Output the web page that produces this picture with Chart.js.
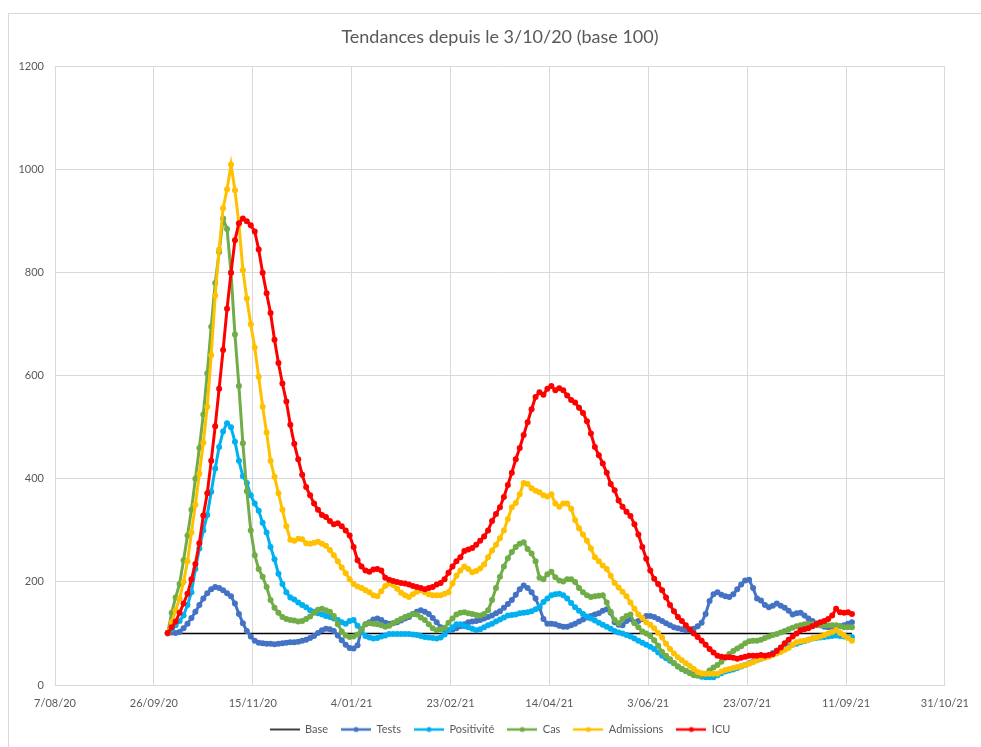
<!DOCTYPE html>
<html>
<head>
<meta charset="utf-8">
<title>Tendances depuis le 3/10/20 (base 100)</title>
<script src="https://cdn.jsdelivr.net/npm/chart.js@4.4.0/dist/chart.umd.min.js"></script>
<style>
  html, body { margin: 0; padding: 0; background: #fff; }
  canvas { display: block; }
</style>
</head>
<body>
<canvas id="trendChart" width="981" height="747"></canvas>
<script>
// x axis counts days from 7/08/20 (first tick); ticks every 50 days up to 31/10/21
const axisStart = Date.UTC(2020, 7, 7);
const xStep = 50;
const xMax = 450;
const yMax = 1200;
const yStep = 200;

// one reading every 2 days from 3/10/20 (day 57)
const firstDay = 57;
const stepDays = 2;
const baseLevel = 100;

const seriesNames = ['Base', 'Tests', 'Positivité', 'Cas', 'Admissions', 'ICU'];
const seriesColors = ['#000000', '#4472C4', '#00B0F0', '#70AD47', '#FFC000', '#FF0000'];

const tests = [
  100, 102, 101, 103, 110, 119, 130, 142, 155, 168,
  178, 186, 190, 188, 184, 178, 172, 158, 138, 120,
  105, 94, 86, 82, 81, 80, 80, 79, 80, 81,
  82, 83, 83, 84, 86, 88, 91, 95, 101, 106,
  109, 108, 105, 96, 87, 78, 72, 71, 77, 108,
  118, 122, 127, 129, 126, 121, 119, 120, 122, 125,
  129, 132, 138, 142, 145, 142, 138, 130, 122, 112,
  108, 106, 107, 110, 114, 118, 122, 123, 124, 126,
  129, 132, 135, 139, 143, 150, 157, 165, 175, 186,
  193, 188, 180, 168, 150, 128, 119, 119, 118, 115,
  113, 113, 116, 119, 123, 127, 131, 134, 137, 139,
  144, 147, 140, 122, 117, 116, 124, 128, 122, 124,
  128, 134, 134, 132, 128, 124, 120, 116, 112, 110,
  108, 106, 106, 109, 114, 121, 138, 163, 176, 180,
  175, 172, 171, 176, 186, 195, 203, 204, 188, 168,
  164, 155, 151, 154, 158, 154, 150, 144, 137, 139,
  140, 135, 129, 124, 120, 116, 113, 112, 112, 113,
  114, 116, 119, 122
];

const positivite = [
  101, 108, 116, 124, 135, 155, 180, 225, 265, 300,
  330, 375, 420, 462, 492, 508, 500, 472, 435, 405,
  392, 368, 352, 338, 315, 296, 268, 244, 216, 196,
  180, 170, 166, 160, 155, 151, 145, 142, 139, 137,
  134, 132, 129, 126, 122, 119, 124, 126, 115, 104,
  95, 92, 90, 91, 94, 96, 99, 99, 99, 99,
  99, 99, 98, 97, 95, 93, 92, 91, 90, 92,
  98, 106, 112, 118, 118, 114, 112, 109, 106, 108,
  112, 116, 119, 123, 127, 131, 135, 136, 137, 139,
  140, 141, 143, 147, 152, 161, 168, 174, 176, 177,
  174, 168, 159, 151, 144, 138, 133, 129, 125, 121,
  117, 113, 109, 105, 102, 100, 97, 94, 90, 86,
  82, 78, 74, 70, 63, 57, 52, 47, 42, 36,
  31, 27, 24, 22, 19, 16, 15, 15, 15, 19,
  23, 26, 28, 30, 33, 36, 39, 42, 45, 48,
  51, 54, 57, 62, 67, 70, 72, 75, 78, 80,
  83, 85, 88, 90, 91, 92, 93, 94, 95, 96,
  95, 94, 93, 93
];

const cas = [
  101, 140, 170, 196, 242, 290, 340, 400, 460, 525,
  605, 695, 780, 840, 905, 885, 800, 680, 580, 469,
  376, 300, 252, 225, 210, 190, 165, 150, 140, 132,
  128, 126, 125, 123, 124, 128, 133, 140, 146, 148,
  145, 142, 134, 118, 104, 96, 93, 94, 98, 108,
  118, 120, 119, 118, 116, 113, 115, 120, 124, 128,
  132, 135, 138, 137, 131, 126, 118, 110, 106, 108,
  111, 121, 129, 137, 140, 141, 139, 138, 136, 135,
  138, 145, 165, 188, 210, 230, 246, 258, 268, 274,
  277, 264, 255, 240, 208, 205, 215, 220, 209, 203,
  201, 205, 205, 200, 188, 180, 174, 171, 172, 173,
  174, 160, 142, 126, 120, 128, 134, 137, 120, 112,
  104, 100, 95, 87, 76, 64, 57, 50, 42, 36,
  31, 27, 23, 19, 18, 19, 22, 28, 34, 39,
  45, 53, 60, 66, 71, 75, 81, 85, 86, 86,
  88, 91, 94, 97, 99, 102, 105, 108, 111, 114,
  116, 118, 119, 118, 116, 116, 116, 116, 116, 116,
  114, 112, 112, 112
];

const admissions = [
  101, 122, 145, 168, 200, 240, 296, 350, 410, 470,
  540, 640, 756, 845, 925, 962, 1010, 960, 895, 805,
  750, 700, 655, 598, 540, 490, 435, 404, 372, 340,
  308, 282, 280, 284, 283, 275, 274, 276, 278, 274,
  270, 262, 252, 240, 228, 217, 205, 196, 191, 188,
  184, 180, 174, 172, 182, 192, 197, 194, 187, 179,
  174, 171, 176, 181, 184, 180, 176, 174, 174, 174,
  177, 180, 197, 212, 222, 230, 225, 219, 221, 226,
  234, 248, 261, 272, 285, 300, 322, 345, 353, 370,
  392, 390, 382, 377, 374, 368, 366, 370, 352, 346,
  352, 352, 342, 320, 304, 292, 280, 265, 248, 240,
  232, 225, 212, 198, 189, 181, 172, 160, 148, 137,
  130, 122, 117, 110, 101, 92, 80, 70, 61, 54,
  48, 42, 37, 31, 25, 23, 22, 22, 22, 22,
  26, 29, 31, 33, 35, 37, 39, 41, 44, 48,
  51, 53, 55, 58, 61, 64, 68, 72, 78, 83,
  85, 86, 88, 90, 92, 94, 97, 100, 103, 106,
  101, 96, 91, 86
];

const icu = [
  101, 112, 123, 140, 158, 177, 205, 235, 275, 329,
  372, 435, 502, 575, 650, 730, 800, 863, 896, 905,
  900, 892, 880, 845, 800, 760, 722, 670, 625, 585,
  550, 505, 468, 438, 408, 384, 368, 352, 340, 330,
  326, 318, 312, 314, 308, 300, 290, 268, 242, 230,
  222, 220, 224, 225, 222, 208, 204, 202, 200, 198,
  197, 195, 192, 190, 188, 186, 188, 190, 195, 198,
  205, 218, 230, 240, 248, 260, 263, 266, 272, 280,
  288, 300, 318, 332, 345, 365, 388, 412, 438, 460,
  485, 510, 535, 559, 568, 563, 575, 580, 572, 576,
  572, 562, 553, 548, 538, 528, 512, 488, 462, 446,
  430, 412, 390, 378, 358, 346, 336, 328, 312, 292,
  268, 245, 222, 206, 196, 184, 170, 155, 143, 132,
  124, 116, 108, 100, 93, 86, 78, 70, 63, 57,
  55, 54, 54, 53, 51, 53, 55, 57, 57, 57,
  58, 57, 58, 60, 66, 73, 81, 88, 94, 100,
  106, 108, 110, 114, 118, 122, 124, 128, 135, 148,
  141, 140, 141, 138
];

const lastDay = firstDay + (icu.length - 1) * stepDays;

function toPoints(values) {
  return values.map((v, i) => ({ x: firstDay + i * stepDays, y: v }));
}

function formatDay(value) {
  const d = new Date(axisStart + value * 86400000);
  return d.getUTCDate() + '/' + String(d.getUTCMonth() + 1).padStart(2, '0') + '/' + String(d.getUTCFullYear()).slice(2);
}

// small line + dot picture used in the legend, like the spreadsheet legend
function legendIcon(color, withDot) {
  const c = document.createElement('canvas');
  c.width = 30;
  c.height = 8;
  const g = c.getContext('2d');
  g.strokeStyle = color;
  g.lineWidth = withDot ? 2.5 : 1.5;
  g.beginPath();
  g.moveTo(0, 4);
  g.lineTo(30, 4);
  g.stroke();
  if (withDot) {
    g.fillStyle = color;
    g.beginPath();
    g.arc(15, 4, 2.5, 0, Math.PI * 2);
    g.fill();
  }
  return c;
}

const icons = seriesColors.map((c, i) => legendIcon(c, i > 0));

function series(i, values) {
  return {
    label: seriesNames[i],
    data: toPoints(values),
    borderColor: seriesColors[i],
    backgroundColor: seriesColors[i],
    pointBackgroundColor: seriesColors[i],
    borderWidth: 3,
    pointRadius: 3,
    pointBorderWidth: 0,
    pointHoverRadius: 3,
    tension: 0,
    order: seriesNames.length - i
  };
}

// light frame round the whole chart
const framePlugin = {
  id: 'frame',
  beforeDraw(chart) {
    const ctx = chart.ctx;
    ctx.save();
    ctx.strokeStyle = '#D9D9D9';
    ctx.lineWidth = 1;
    ctx.strokeRect(8.5, 13.5, 1200, 1000);
    ctx.restore();
  }
};

const legendHeightPlugin = {
  id: 'legendHeight',
  beforeInit(chart) {
    const fit = chart.legend.fit;
    chart.legend.fit = function () {
      fit.call(this);
      this.height = 36;
    };
  }
};

Chart.defaults.font.family = 'Lato, "Liberation Sans", sans-serif';
Chart.defaults.color = '#595959';

const ctx = document.getElementById('trendChart').getContext('2d');

new Chart(ctx, {
  type: 'line',
  data: {
    datasets: [
      {
        label: seriesNames[0],
        data: [{ x: firstDay, y: baseLevel }, { x: lastDay, y: baseLevel }],
        borderColor: seriesColors[0],
        backgroundColor: seriesColors[0],
        borderWidth: 1.5,
        pointRadius: 0,
        order: seriesNames.length
      },
      series(1, tests),
      series(2, positivite),
      series(3, cas),
      series(4, admissions),
      series(5, icu)
    ]
  },
  options: {
    responsive: false,
    animation: false,
    layout: {
      padding: { top: 13, left: 10, right: 33, bottom: 0 }
    },
    scales: {
      x: {
        type: 'linear',
        min: 0,
        max: xMax,
        afterFit(scale) { scale.height = 26; },
        ticks: {
          stepSize: xStep,
          autoSkip: false,
          maxRotation: 0,
          padding: 12,
          font: { size: 11 },
          callback: formatDay
        },
        grid: { color: '#D9D9D9', drawTicks: false },
        border: { color: '#D9D9D9' }
      },
      y: {
        min: 0,
        max: yMax,
        afterFit(scale) { scale.width = 45; },
        ticks: {
          stepSize: yStep,
          padding: 11,
          font: { size: 11 },
          callback: value => String(value)
        },
        grid: { color: '#D9D9D9', drawTicks: false },
        border: { color: '#D9D9D9' }
      }
    },
    plugins: {
      title: {
        display: true,
        text: 'Tendances depuis le 3/10/20 (base 100)',
        fullSize: false,
        color: '#595959',
        font: { size: 18, weight: 'normal' },
        padding: { top: 13, bottom: 19 }
      },
      legend: {
        display: true,
        position: 'bottom',
        fullSize: false,
        labels: {
          usePointStyle: true,
          pointStyleWidth: 30,
          padding: 13,
          font: { size: 11 },
          sort: (a, b) => a.datasetIndex - b.datasetIndex,
          generateLabels(chart) {
            const items = Chart.defaults.plugins.legend.labels.generateLabels(chart);
            items.forEach(it => { it.pointStyle = icons[it.datasetIndex]; });
            return items;
          }
        }
      },
      tooltip: { enabled: false }
    }
  },
  plugins: [framePlugin, legendHeightPlugin]
});
</script>
</body>
</html>
